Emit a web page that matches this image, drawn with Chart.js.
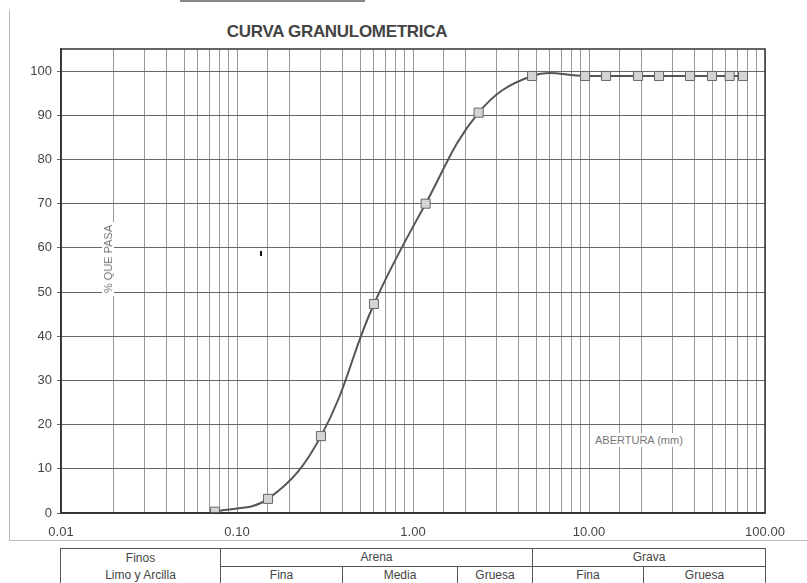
<!DOCTYPE html>
<html>
<head>
<meta charset="utf-8">
<script src="https://cdn.jsdelivr.net/npm/chart.js@4/dist/chart.umd.min.js"></script>
<style>
    body { margin: 0; background: #fff; width: 807px; height: 583px; overflow: hidden; position: relative;
           font-family: 'Liberation Sans Narrow', 'Liberation Sans', Arial, sans-serif; color: #444; }
    #wrap { position: absolute; left: 0; top: 0; width: 807px; height: 541px; }
    #title { position: absolute; left: 0; width: 674px; top: 22px; text-align: center;
             font-weight: bold; font-size: 17px; letter-spacing: -0.3px; color: #444; }
    .note { position: absolute; background: #fff; color: #777; font-size: 11px; white-space: nowrap; }
    #yTitle { left: 108px; top: 259px; transform: translate(-50%, -50%) rotate(-90deg); padding: 0 3px; }
    #xTitle { left: 593px; top: 433px; padding: 1px 2px; }
    #frameV { position: absolute; left: 9px; top: 10px; width: 1px; height: 531px; background: #bbb; }
    #frameH { position: absolute; left: 9px; top: 540px; width: 798px; height: 1px; background: #bbb; }
    #scan { position: absolute; left: 180px; top: 0; width: 185px; height: 2px; background: #888; }
    #dot { position: absolute; left: 260px; top: 251px; width: 2px; height: 5px; background: #111; }
    table { position: absolute; left: 60px; top: 548px; width: 705px; border-collapse: collapse; table-layout: fixed; }
    td { border: 1px solid #555; text-align: center; font-size: 12px; padding: 0; height: 17px; line-height: 15px; }
</style>
</head>
<body>
<div id="scan"></div>
<div id="frameV"></div>
<div id="frameH"></div>
<div id="title">CURVA GRANULOMETRICA</div>
<div id="wrap"><canvas id="grafico" width="807" height="541"></canvas></div>
<div class="note" id="yTitle">% QUE PASA</div>
<div class="note" id="xTitle">ABERTURA (mm)</div>
<div id="dot"></div>
<table>
    <colgroup>
        <col style="width:160px"><col style="width:122px"><col style="width:115px"><col style="width:75px">
        <col style="width:111px"><col style="width:122px">
    </colgroup>
    <tr><td rowspan="2" style="line-height:17px">Finos<br>Limo y Arcilla</td><td colspan="3">Arena</td><td colspan="2">Grava</td></tr>
    <tr><td>Fina</td><td>Media</td><td>Gruesa</td><td>Fina</td><td>Gruesa</td></tr>
</table>
<script>
// Abertura de tamices (mm) y porcentaje que pasa
const aberturas = [0.075, 0.15, 0.30, 0.60, 1.18, 2.36, 4.75, 9.5, 12.5, 19.0, 25.0, 37.5, 50.0, 63.0, 75.0];
const pasa = [0.3, 3.2, 17.4, 47.3, 70.0, 90.6, 98.9, 98.9, 98.9, 98.9, 98.9, 98.9, 98.9, 98.9, 98.9];
const yTicks = [0, 10, 20, 30, 40, 50, 60, 70, 80, 90, 100];

const FONT = "'Liberation Sans Narrow', 'Liberation Sans', Arial, sans-serif";

const puntos = aberturas.map((x, i) => ({ x: x, y: pasa[i] }));

// marco completo del area de trazado
const marco = {
    id: 'marco',
    afterDraw(c) {
        const a = c.chartArea;
        const ctx = c.ctx;
        ctx.save();
        ctx.strokeStyle = '#333';
        ctx.lineWidth = 1.5;
        ctx.strokeRect(a.left, a.top, a.right - a.left, a.bottom - a.top);
        ctx.restore();
    }
};

function esDecada(v) {
    const l = Math.log10(v);
    return Math.abs(l - Math.round(l)) < 1e-6;
}

new Chart(document.getElementById('grafico'), {
    type: 'line',
    data: {
        datasets: [{
            data: puntos,
            borderColor: '#555',
            borderWidth: 2,
            tension: 0.4,
            pointStyle: 'rect',
            pointRadius: 6.4,
            pointBackgroundColor: '#d4d4d4',
            pointBorderColor: '#666',
            pointBorderWidth: 1
        }]
    },
    options: {
        responsive: false,
        animation: false,
        layout: { padding: { top: 49, right: 42, left: 0, bottom: 0 } },
        plugins: { legend: { display: false }, tooltip: { enabled: false } },
        scales: {
            x: {
                type: 'logarithmic',
                min: 0.01,
                max: 100,
                afterFit: s => { s.height = 28; },
                grid: { color: '#999', lineWidth: 1, drawTicks: false },
                border: { color: '#333', width: 1.5 },
                ticks: {
                    autoSkip: false,
                    maxRotation: 0,
                    padding: 12,
                    color: '#444',
                    font: { family: FONT, size: 13 },
                    callback: v => esDecada(v) ? Number(v).toFixed(2) : ''
                }
            },
            y: {
                min: 0,
                max: 105,
                afterFit: s => { s.width = 61; },
                afterBuildTicks: s => { s.ticks = yTicks.map(v => ({ value: v })); },
                grid: { color: '#666', lineWidth: 1, tickLength: 4 },
                border: { color: '#333', width: 1.5 },
                ticks: {
                    padding: 5,
                    color: '#444',
                    font: { family: FONT, size: 13 }
                }
            }
        }
    },
    plugins: [marco]
});
</script>
</body>
</html>
